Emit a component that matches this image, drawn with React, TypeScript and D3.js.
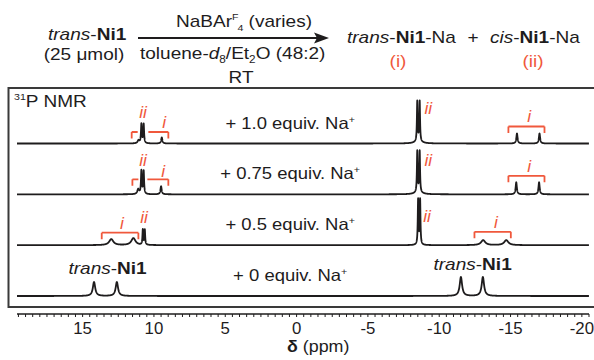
import React from 'react';
import * as d3 from 'd3';

const W = 594;
const H = 360;

// chemical shift range shown on the axis (ppm)
const ppmDomain = [19.6, -20.5];
const majorTicks = [15, 10, 5, 0, -5, -10, -15, -20];

// equivalents of NaBArF4 per trace, top to bottom
const equivs = ['1.0', '0.75', '0.5', '0'];

// peaks per trace: [ppm, height, fwhm (ppm)]
const peaks10 = [
  [11.08, 3, 0.15], [10.88, 19, 0.07], [10.72, 19, 0.07], [9.45, 6, 0.1],
  [-8.55, 2, 0.6], [-8.46, 40, 0.06], [-8.63, 40, 0.06],
  [-15.45, 10, 0.1], [-17.03, 10, 0.1],
];
const peaks075 = [
  [11.1, 5, 0.15], [10.88, 23, 0.07], [10.72, 23, 0.07], [9.5, 8, 0.1],
  [-8.55, 2, 0.6], [-8.46, 41, 0.06], [-8.63, 41, 0.06],
  [-15.4, 12, 0.1], [-17.0, 12, 0.1],
];
const peaks05 = [
  [12.99, 6, 0.35], [11.44, 7, 0.35], [10.78, 15, 0.06], [10.64, 15, 0.06],
  [-8.52, 45, 0.06], [-8.66, 45, 0.06],
  [-13.08, 5, 0.35], [-14.7, 5, 0.35],
];
const peaks0 = [
  [14.2, 14, 0.2], [12.6, 14, 0.2],
  [-11.52, 19, 0.2], [-13.06, 19, 0.2],
];
const tracePeaks = [peaks10, peaks075, peaks05, peaks0];

// brackets: [trace, ppmFrom, ppmTo, height above baseline, tickLeft, tickRight]
const brackets = [
  [0, 11.56, 11.14, 11.5, 1, 0], [0, 10.39, 8.99, 11.5, 0, 1], [0, -14.85, -17.38, 17, 1, 1],
  [1, 11.51, 11.09, 15, 1, 0], [1, 10.46, 8.99, 15, 0, 1], [1, -14.85, -17.38, 18.5, 1, 1],
  [2, 13.66, 11.09, 12.5, 1, 1], [2, -12.47, -15.02, 13.3, 1, 1],
];
// red labels: [trace, ppm, baseline offset, text]
const redLabels = [
  [0, 10.76, 26, 'ii'], [0, 9.29, 15.5, 'i'], [0, -9.23, 30, 'ii'], [0, -16.3, 21.5, 'i'],
  [1, 10.76, 28, 'ii'], [1, 9.36, 17, 'i'], [1, -9.23, 28, 'ii'], [1, -16.3, 22.5, 'i'],
  [2, 10.69, 22.5, 'ii'], [2, 12.24, 16.5, 'i'], [2, -9.15, 23, 'ii'], [2, -13.97, 17, 'i'],
];
// trans-Ni1 labels on the bottom trace: [ppm, baseline offset]
const startLabels = [[13.25, 22], [-12.34, 26]];

const RED = '#f0583c';
const INK = '#1e1c1d';
const FONT = '"Liberation Sans", Arial, Helvetica, sans-serif';
const SX = 1.12;

const x = d3.scaleLinear().domain(ppmDomain).range([17, 589]);
const traceY = d3.scaleLinear().domain([0, 3]).range([143.5, 296]);
const hY = d3.scaleLinear().domain([0, 50]).range([0, 50]);

const grid = d3.range(ppmDomain[0], ppmDomain[1], -0.005);

function lor(p: number, pk: number[]) {
  const [c, h, w] = pk;
  const u = (2 * (p - c)) / w;
  return h / (1 + u * u);
}

const T = ({ x, y, anchor = 'start', size = 15.5, sx = SX, fill = INK, children }: any) => (
  <text
    transform={`translate(${x},${y}) scale(${sx},1)`}
    textAnchor={anchor}
    fontSize={size}
    fill={fill}
    fontFamily={FONT}
  >
    {children}
  </text>
);

export default function App() {
  const minorTicks = d3.range(-20.5, 19.6 + 1e-6, 0.5);

  const paths = tracePeaks.map((pks, i) => {
    const base = traceY(i);
    const line = d3
      .line<number>()
      .x((p) => x(p))
      .y((p) => base - hY(d3.sum(pks, (pk) => lor(p, pk))));
    return line(grid) as string;
  });

  return (
    <div style={{ position: 'absolute', left: 0, top: 0 }}>
      <svg width={W} height={H} style={{ display: 'block', background: '#fff' }}>
        {/* reaction scheme */}
        <T x={48} y={40} size={17}>
          <tspan fontStyle="italic">trans</tspan>-<tspan fontWeight="bold">Ni1</tspan>
        </T>
        <T x={84} y={60} size={17} anchor="middle">(25 μmol)</T>
        <T x={176} y={27} size={17}>
          NaBAr<tspan fontSize={9.5} dy={-7}>F</tspan>
          <tspan fontSize={9.5} dy={11} dx={-1}>4</tspan>
          <tspan dy={-4}> (varies)</tspan>
        </T>
        <line x1={138} x2={320} y1={38} y2={38} stroke={INK} strokeWidth={2} />
        <path d="M314,32.5 L329,38 L314,43.5 L317,38 Z" fill={INK} />
        <T x={140} y={59} size={17}>
          toluene-<tspan fontStyle="italic">d</tspan>
          <tspan fontSize={10.5} dy={4}>8</tspan>
          <tspan dy={-4}>/Et</tspan>
          <tspan fontSize={10.5} dy={4}>2</tspan>
          <tspan dy={-4}>O (48:2)</tspan>
        </T>
        <T x={241} y={83} size={17} anchor="middle">RT</T>
        <T x={347} y={43} size={17}>
          <tspan fontStyle="italic">trans</tspan>-<tspan fontWeight="bold">Ni1</tspan>-Na
        </T>
        <T x={473} y={43} size={17} anchor="middle">+</T>
        <T x={490} y={43} size={17}>
          <tspan fontStyle="italic">cis</tspan>-<tspan fontWeight="bold">Ni1</tspan>-Na
        </T>
        <T x={398} y={67} size={17} anchor="middle" fill={RED}>(i)</T>
        <T x={533} y={67} size={17} anchor="middle" fill={RED}>(ii)</T>

        {/* frame */}
        <rect x={8.5} y={88} width={620} height={219} fill="none" stroke="#3a3a3a" strokeWidth={2} />
        <T x={14} y={107} size={17}>
          <tspan fontSize={9.5} dy={-7}>31</tspan>
          <tspan dy={7}>P NMR</tspan>
        </T>

        {/* spectra */}
        {paths.map((d, i) => (
          <path key={i} d={d} fill="none" stroke={INK} strokeWidth={1.8} strokeLinejoin="round" />
        ))}

        {equivs.map((e, i) => (
          <T key={i} x={x(0.45)} y={traceY(i) - 15} anchor="middle" size={16.5}>
            + {e} equiv. Na<tspan fontSize={9.5} dy={-6}>+</tspan>
          </T>
        ))}

        {brackets.map(([t, a, b, off, tl, tr], i) => {
          const yb = traceY(t) - off;
          const x1 = x(a);
          const x2 = x(b);
          let d = `M${x1},${yb} L${x2},${yb}`;
          if (tl) d += ` M${x1},${yb} L${x1},${yb + 6.5}`;
          if (tr) d += ` M${x2},${yb} L${x2},${yb + 6.5}`;
          return <path key={i} d={d} fill="none" stroke={RED} strokeWidth={1.8} />;
        })}

        {redLabels.map(([t, p, off, s], i) => (
          <T key={i} x={x(p as number)} y={traceY(t as number) - (off as number)} anchor="middle" size={16.5} fill={RED} sx={1.05}>
            <tspan fontStyle="italic">{s}</tspan>
          </T>
        ))}

        {startLabels.map(([p, off], i) => (
          <T key={i} x={x(p)} y={traceY(3) - off} anchor="middle" size={17}>
            <tspan fontStyle="italic">trans</tspan>-<tspan fontWeight="bold">Ni1</tspan>
          </T>
        ))}

        {/* axis */}
        <line x1={x(ppmDomain[0])} x2={x(ppmDomain[1])} y1={314} y2={314} stroke={INK} strokeWidth={1.5} />
        {minorTicks.map((t) => (
          <line key={t} x1={x(t)} x2={x(t)} y1={314} y2={317} stroke={INK} strokeWidth={1} />
        ))}
        {majorTicks.map((t) => (
          <T key={t} x={x(t)} y={334} anchor="middle" size={16} sx={1.05}>
            {t}
          </T>
        ))}
        <T x={287} y={352} size={17} sx={1.05}>
          <tspan fontWeight="bold">δ</tspan> (ppm)
        </T>
      </svg>
    </div>
  );
}
